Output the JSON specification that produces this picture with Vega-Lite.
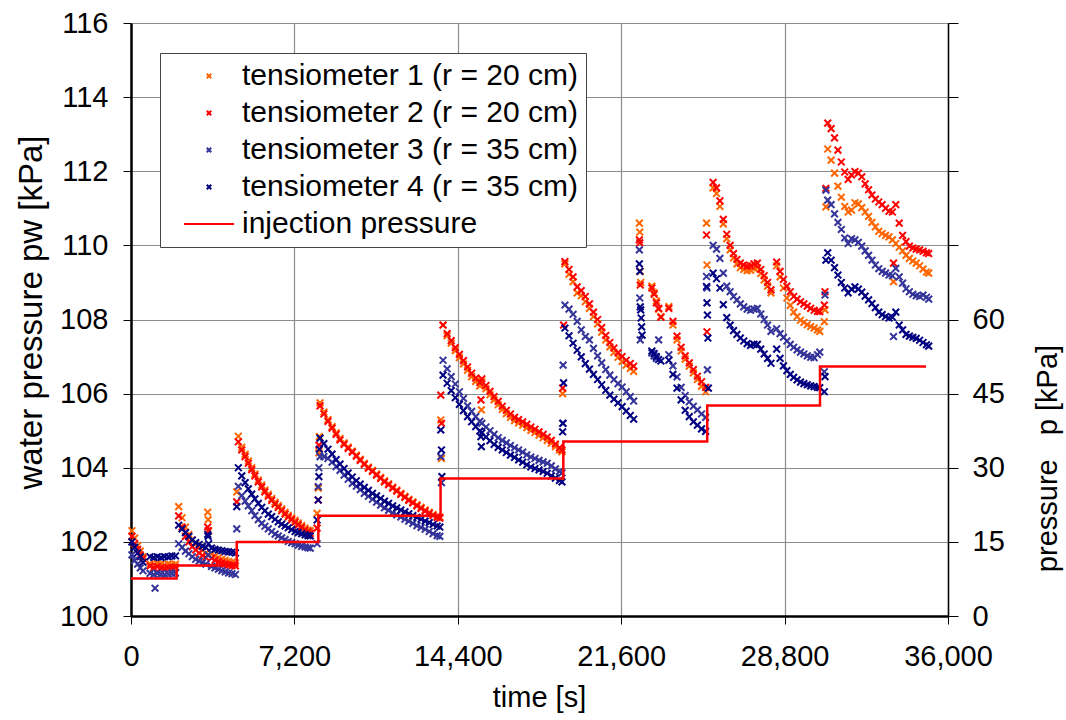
{
"$schema": "https://vega.github.io/schema/vega-lite/v6.json",
"width": 817, "height": 593,
"autosize": {"type": "none"},
"padding": {"left": 131, "top": 23, "right": 118, "bottom": 104},
"background": "white",
"config": {
 "view": {"stroke": null},
 "font": "Liberation Sans",
 "axis": {"labelFont": "Liberation Sans", "titleFont": "Liberation Sans", "labelColor": "#000", "titleColor": "#000", "titleFontWeight": "normal", "labelFontSize": 29, "titleFontSize": 29, "domainColor": "#000", "tickColor": "#000", "gridColor": "#8c8c8c", "gridWidth": 1.2},
 "legend": {"orient": "none", "legendX": 29, "legendY": 30, "labelFont": "Liberation Sans", "labelFontSize": 30, "labelColor": "#000", "fillColor": "white", "strokeColor": "#444", "padding": 8, "rowPadding": 7, "labelOffset": 18, "symbolOffset": 26, "labelLimit": 0, "symbolSize": 20, "symbolStrokeWidth": 2}
},
"datasets": {
"tens": [
{"t":40,"a":102.3,"b":102.15,"c":101.65,"d":102.0},
{"t":160,"a":102.1,"b":101.95,"c":101.5,"d":101.85},
{"t":290,"a":101.9,"b":101.8,"c":101.4,"d":101.7},
{"t":410,"a":101.75,"b":101.65,"c":101.3,"d":101.6},
{"t":530,"a":101.6,"b":101.55,"c":101.22,"d":101.45},
{"t":840,"a":101.4,"b":101.35,"c":101.15,"d":101.6},
{"t":1000,"a":101.38,"b":101.3,"c":101.12,"d":101.58},
{"t":1060,"c":100.75},
{"t":1160,"a":101.42,"b":101.33,"c":101.15,"d":101.6},
{"t":1320,"a":101.4,"b":101.3,"c":101.13,"d":101.58},
{"t":1480,"a":101.38,"b":101.28,"c":101.12,"d":101.6},
{"t":1640,"a":101.4,"b":101.3,"c":101.14,"d":101.6},
{"t":1800,"a":101.38,"b":101.3,"c":101.15,"d":101.62},
{"t":1960,"a":101.4,"b":101.32,"c":101.16,"d":101.62},
{"t":2100,"a":102.95,"b":102.7,"c":101.95,"d":102.45},
{"t":2250,"a":102.65,"b":102.4,"c":101.85,"d":102.35},
{"t":2400,"a":102.4,"b":102.15,"c":101.75,"d":102.25},
{"t":2550,"a":102.2,"b":102.0,"c":101.68,"d":102.15},
{"t":2700,"a":102.05,"b":101.87,"c":101.6,"d":102.05},
{"t":2850,"a":101.95,"b":101.78,"c":101.53,"d":101.98},
{"t":3000,"a":101.85,"b":101.7,"c":101.48,"d":101.93},
{"t":3150,"a":101.77,"b":101.63,"c":101.44,"d":101.88},
{"t":3300,"a":101.7,"b":101.58,"c":101.4,"d":101.85},
{"t":3380,"a":102.8,"b":102.4,"d":102.2},
{"t":3400,"a":102.6,"b":102.3,"c":101.65,"d":102.15},
{"t":3420,"a":102.3,"d":101.95},
{"t":3550,"a":101.68,"b":101.56,"c":101.34,"d":101.83},
{"t":3700,"a":101.62,"b":101.5,"c":101.3,"d":101.8},
{"t":3850,"a":101.57,"b":101.46,"c":101.26,"d":101.78},
{"t":4000,"a":101.53,"b":101.43,"c":101.22,"d":101.76},
{"t":4150,"a":101.5,"b":101.4,"c":101.19,"d":101.74},
{"t":4300,"a":101.47,"b":101.38,"c":101.16,"d":101.73},
{"t":4450,"a":101.45,"b":101.36,"c":101.14,"d":101.72},
{"t":4600,"a":101.43,"b":101.35,"c":101.12,"d":101.7},
{"t":4660,"a":103.35,"b":103.08,"c":102.35,"d":102.95},
{"t":4730,"a":104.85,"b":104.7,"c":103.5,"d":104.0},
{"t":4880,"a":104.55,"b":104.48,"c":103.25,"d":103.78},
{"t":5030,"a":104.36,"b":104.3,"c":103.1,"d":103.6},
{"t":5170,"a":104.18,"b":104.12,"c":102.97,"d":103.43},
{"t":5320,"a":104.0,"b":103.95,"c":102.84,"d":103.29},
{"t":5460,"a":103.83,"b":103.78,"c":102.71,"d":103.16},
{"t":5610,"a":103.67,"b":103.62,"c":102.6,"d":103.04},
{"t":5760,"a":103.53,"b":103.48,"c":102.5,"d":102.93},
{"t":5900,"a":103.4,"b":103.35,"c":102.42,"d":102.84},
{"t":6050,"a":103.28,"b":103.23,"c":102.35,"d":102.75},
{"t":6200,"a":103.17,"b":103.12,"c":102.28,"d":102.68},
{"t":6350,"a":103.07,"b":103.02,"c":102.21,"d":102.61},
{"t":6490,"a":102.98,"b":102.93,"c":102.16,"d":102.54},
{"t":6640,"a":102.89,"b":102.84,"c":102.11,"d":102.48},
{"t":6790,"a":102.8,"b":102.75,"c":102.06,"d":102.43},
{"t":6930,"a":102.72,"b":102.67,"c":102.01,"d":102.38},
{"t":7080,"a":102.65,"b":102.6,"c":101.98,"d":102.33},
{"t":7230,"a":102.58,"b":102.53,"c":101.95,"d":102.28},
{"t":7370,"a":102.51,"b":102.46,"c":101.91,"d":102.25},
{"t":7520,"a":102.44,"b":102.39,"c":101.88,"d":102.22},
{"t":7670,"a":102.37,"b":102.32,"c":101.86,"d":102.19},
{"t":7800,"a":102.32,"b":102.27,"c":101.84,"d":102.17},
{"t":7900,"a":102.3,"b":102.23,"c":101.83,"d":102.16},
{"t":8200,"a":102.77,"b":102.37,"c":101.95,"d":102.59},
{"t":8250,"a":103.45,"b":103.13,"c":103.49,"d":103.13},
{"t":8280,"a":104.4,"b":104.61,"c":104.0,"d":103.76},
{"t":8300,"a":104.84,"d":104.5},
{"t":8330,"a":105.75,"b":105.67,"c":104.3,"d":104.8},
{"t":8500,"a":105.5,"b":105.45,"c":104.3,"d":104.65},
{"t":8680,"a":105.3,"b":105.25,"c":104.25,"d":104.5},
{"t":8860,"a":105.11,"b":105.07,"c":104.15,"d":104.37},
{"t":9040,"a":104.94,"b":104.9,"c":104.03,"d":104.22},
{"t":9210,"a":104.79,"b":104.75,"c":103.93,"d":104.1},
{"t":9390,"a":104.67,"b":104.63,"c":103.8,"d":103.98},
{"t":9570,"a":104.56,"b":104.52,"c":103.69,"d":103.86},
{"t":9750,"a":104.45,"b":104.42,"c":103.58,"d":103.75},
{"t":9930,"a":104.34,"b":104.31,"c":103.5,"d":103.65},
{"t":10100,"a":104.23,"b":104.2,"c":103.41,"d":103.56},
{"t":10280,"a":104.12,"b":104.09,"c":103.31,"d":103.47},
{"t":10460,"a":104.02,"b":103.99,"c":103.23,"d":103.39},
{"t":10640,"a":103.93,"b":103.9,"c":103.15,"d":103.31},
{"t":10820,"a":103.83,"b":103.8,"c":103.07,"d":103.24},
{"t":11000,"a":103.74,"b":103.71,"c":102.99,"d":103.17},
{"t":11170,"a":103.65,"b":103.62,"c":102.92,"d":103.1},
{"t":11350,"a":103.57,"b":103.54,"c":102.85,"d":103.04},
{"t":11530,"a":103.48,"b":103.45,"c":102.78,"d":102.97},
{"t":11710,"a":103.4,"b":103.37,"c":102.73,"d":102.92},
{"t":11890,"a":103.31,"b":103.28,"c":102.67,"d":102.86},
{"t":12070,"a":103.23,"b":103.2,"c":102.61,"d":102.81},
{"t":12240,"a":103.15,"b":103.12,"c":102.56,"d":102.76},
{"t":12420,"a":103.08,"b":103.05,"c":102.5,"d":102.71},
{"t":12600,"a":103.0,"b":102.97,"c":102.44,"d":102.66},
{"t":12780,"a":102.93,"b":102.9,"c":102.39,"d":102.61},
{"t":12960,"a":102.86,"b":102.83,"c":102.34,"d":102.56},
{"t":13140,"a":102.8,"b":102.77,"c":102.28,"d":102.52},
{"t":13310,"a":102.74,"b":102.71,"c":102.22,"d":102.47},
{"t":13490,"a":102.69,"b":102.66,"c":102.17,"d":102.43},
{"t":13610,"a":102.67,"b":102.64,"c":102.15,"d":102.4},
{"t":13650,"a":105.29,"b":105.96,"c":104.3,"d":105.02},
{"t":13680,"a":104.25,"b":105.2,"c":103.6,"d":104.48},
{"t":13700,"d":103.76},
{"t":13750,"a":107.85,"b":107.85,"c":106.9,"d":106.5},
{"t":13930,"a":107.56,"b":107.62,"c":106.67,"d":106.28},
{"t":14110,"a":107.36,"b":107.43,"c":106.46,"d":106.08},
{"t":14290,"a":107.16,"b":107.24,"c":106.26,"d":105.89},
{"t":14470,"a":106.97,"b":107.06,"c":106.05,"d":105.71},
{"t":14650,"a":106.8,"b":106.89,"c":105.87,"d":105.54},
{"t":14830,"a":106.63,"b":106.72,"c":105.67,"d":105.38},
{"t":15010,"a":106.46,"b":106.55,"c":105.52,"d":105.24},
{"t":15190,"a":106.33,"b":106.42,"c":105.38,"d":105.11},
{"t":15370,"a":106.21,"b":106.3,"c":105.25,"d":104.99},
{"t":15420,"b":105.83,"d":104.84},
{"t":15440,"a":105.56,"d":104.57},
{"t":15460,"a":106.32,"b":106.4,"c":105.2,"d":104.94},
{"t":15640,"a":106.13,"b":106.22,"c":105.1,"d":104.83},
{"t":15820,"a":105.97,"b":106.06,"c":105.0,"d":104.73},
{"t":16000,"a":105.83,"b":105.92,"c":104.9,"d":104.63},
{"t":16180,"a":105.7,"b":105.79,"c":104.81,"d":104.55},
{"t":16360,"a":105.57,"b":105.66,"c":104.74,"d":104.48},
{"t":16540,"a":105.46,"b":105.55,"c":104.67,"d":104.41},
{"t":16720,"a":105.36,"b":105.45,"c":104.6,"d":104.34},
{"t":16900,"a":105.27,"b":105.36,"c":104.54,"d":104.28},
{"t":17080,"a":105.21,"b":105.3,"c":104.48,"d":104.21},
{"t":17260,"a":105.15,"b":105.24,"c":104.42,"d":104.15},
{"t":17440,"a":105.08,"b":105.17,"c":104.35,"d":104.08},
{"t":17620,"a":105.01,"b":105.1,"c":104.29,"d":104.02},
{"t":17800,"a":104.95,"b":105.04,"c":104.25,"d":103.98},
{"t":17980,"a":104.88,"b":104.97,"c":104.2,"d":103.94},
{"t":18160,"a":104.81,"b":104.9,"c":104.16,"d":103.9},
{"t":18340,"a":104.74,"b":104.83,"c":104.12,"d":103.85},
{"t":18520,"a":104.66,"b":104.74,"c":104.05,"d":103.78},
{"t":18700,"a":104.57,"b":104.64,"c":103.97,"d":103.72},
{"t":18880,"a":104.48,"b":104.54,"c":103.9,"d":103.66},
{"t":18990,"a":104.43,"b":104.48,"c":103.86,"d":103.62},
{"t":19020,"a":106.0,"b":106.15,"c":105.2,"d":104.97},
{"t":19040,"c":106.77,"d":105.2},
{"t":19060,"b":107.85,"d":106.29},
{"t":19120,"a":109.5,"b":109.56,"c":108.39,"d":107.77},
{"t":19300,"a":109.22,"b":109.35,"c":108.28,"d":107.56},
{"t":19480,"a":109.02,"b":109.15,"c":108.14,"d":107.36},
{"t":19660,"a":108.72,"b":108.88,"c":107.95,"d":107.17},
{"t":19840,"a":108.64,"b":108.78,"c":107.72,"d":106.99},
{"t":20020,"a":108.48,"b":108.62,"c":107.54,"d":106.81},
{"t":20200,"a":108.3,"b":108.42,"c":107.45,"d":106.66},
{"t":20380,"a":108.08,"b":108.2,"c":107.22,"d":106.52},
{"t":20560,"a":107.88,"b":108.0,"c":107.02,"d":106.38},
{"t":20740,"a":107.66,"b":107.78,"c":106.83,"d":106.24},
{"t":20920,"a":107.45,"b":107.57,"c":106.65,"d":106.09},
{"t":21100,"a":107.26,"b":107.38,"c":106.5,"d":105.96},
{"t":21280,"a":107.11,"b":107.23,"c":106.38,"d":105.85},
{"t":21460,"a":106.98,"b":107.1,"c":106.27,"d":105.75},
{"t":21640,"a":106.87,"b":107.0,"c":106.18,"d":105.65},
{"t":21820,"a":106.77,"b":106.9,"c":106.05,"d":105.53},
{"t":22000,"a":106.68,"b":106.81,"c":105.92,"d":105.41},
{"t":22150,"a":106.6,"b":106.74,"c":105.8,"d":105.31},
{"t":22400,"a":110.6,"b":110.15,"c":109.88,"d":109.5},
{"t":22420,"a":110.36,"b":110.07,"c":108.58,"d":109.3},
{"t":22440,"a":109.3,"b":108.93,"c":107.45,"d":108.34},
{"t":22460,"a":109.0,"d":108.26},
{"t":22480,"d":108.04},
{"t":22500,"d":107.8},
{"t":22520,"d":107.58},
{"t":22950,"a":108.9,"b":108.85,"c":107.1,"d":107.15},
{"t":23050,"a":108.72,"b":108.68,"c":107.02,"d":107.08},
{"t":23150,"a":108.5,"b":108.45,"c":106.95,"d":107.0},
{"t":23250,"a":108.28,"b":108.3,"c":107.45,"d":106.92},
{"t":23350,"a":108.08,"b":108.06,"d":106.88},
{"t":23700,"a":108.35,"b":108.3,"c":107.05,"d":106.9},
{"t":23880,"a":107.85,"b":107.95,"c":106.75,"d":106.52},
{"t":24060,"a":107.45,"b":107.55,"c":106.45,"d":106.15},
{"t":24240,"a":107.15,"b":107.25,"c":106.17,"d":105.83},
{"t":24420,"a":106.93,"b":107.02,"c":105.95,"d":105.55},
{"t":24600,"a":106.74,"b":106.83,"c":105.78,"d":105.38},
{"t":24780,"a":106.56,"b":106.65,"c":105.66,"d":105.24},
{"t":24960,"a":106.38,"b":106.47,"c":105.56,"d":105.15},
{"t":25140,"a":106.2,"b":106.32,"c":105.45,"d":105.05},
{"t":25320,"a":106.05,"b":106.17,"c":105.36,"d":104.98},
{"t":25360,"a":110.6,"b":110.28,"c":109.16,"d":108.89},
{"t":25380,"a":109.47,"b":107.67,"c":108.85,"d":108.45},
{"t":25400,"c":106.64,"d":108.12},
{"t":25420,"d":107.5},
{"t":25440,"d":106.15},
{"t":25650,"a":111.55,"b":111.7,"c":110.0,"d":109.25},
{"t":25800,"a":111.4,"b":111.55,"c":109.9,"d":109.1},
{"t":25950,"a":111.05,"b":111.2,"c":109.65,"d":108.85},
{"t":26100,"a":110.58,"b":110.7,"c":109.25,"d":108.4},
{"t":26250,"a":110.18,"b":110.3,"c":108.9,"d":108.05},
{"t":26400,"a":109.88,"b":110.0,"c":108.75,"d":107.85},
{"t":26550,"a":109.66,"b":109.78,"c":108.62,"d":107.7},
{"t":26700,"a":109.5,"b":109.62,"c":108.53,"d":107.6},
{"t":26850,"a":109.4,"b":109.52,"c":108.42,"d":107.5},
{"t":27000,"a":109.35,"b":109.47,"c":108.34,"d":107.42},
{"t":27150,"a":109.32,"b":109.44,"c":108.28,"d":107.35},
{"t":27300,"a":109.33,"b":109.45,"c":108.25,"d":107.3},
{"t":27450,"a":109.38,"b":109.5,"c":108.28,"d":107.33},
{"t":27600,"a":109.4,"b":109.52,"c":108.3,"d":107.33},
{"t":27750,"a":109.24,"b":109.35,"c":108.15,"d":107.2},
{"t":27900,"a":109.07,"b":109.18,"c":108.0,"d":107.07},
{"t":28050,"a":108.9,"b":109.0,"c":107.85,"d":106.95},
{"t":28200,"a":108.72,"b":108.8,"c":107.68,"d":106.82},
{"t":28450,"a":109.45,"b":109.55,"c":107.75,"d":107.2},
{"t":28600,"a":109.15,"b":109.3,"c":107.62,"d":106.95},
{"t":28750,"a":108.85,"b":109.08,"c":107.52,"d":106.75},
{"t":28900,"a":108.58,"b":108.9,"c":107.42,"d":106.62},
{"t":29050,"a":108.38,"b":108.75,"c":107.33,"d":106.52},
{"t":29200,"a":108.2,"b":108.62,"c":107.25,"d":106.44},
{"t":29350,"a":108.08,"b":108.55,"c":107.18,"d":106.37},
{"t":29500,"a":107.98,"b":108.48,"c":107.12,"d":106.31},
{"t":29650,"a":107.92,"b":108.42,"c":107.07,"d":106.27},
{"t":29800,"a":107.86,"b":108.36,"c":107.02,"d":106.24},
{"t":29950,"a":107.81,"b":108.3,"c":106.98,"d":106.21},
{"t":30100,"a":107.77,"b":108.25,"c":106.97,"d":106.19},
{"t":30250,"a":107.72,"b":108.22,"c":107.05,"d":106.17},
{"t":30350,"a":107.68,"b":108.21,"c":107.12,"d":106.16},
{"t":30550,"a":107.94,"b":108.39,"c":106.59,"d":106.05},
{"t":30580,"a":108.26,"b":108.75,"c":108.66,"d":106.46},
{"t":30620,"a":111.04,"b":111.54,"c":111.49,"d":109.6},
{"t":30700,"a":112.6,"b":113.3,"c":111.22,"d":109.8},
{"t":30850,"a":112.3,"b":113.15,"c":111.1,"d":109.6},
{"t":31000,"a":111.95,"b":112.9,"c":110.85,"d":109.4},
{"t":31150,"a":111.6,"b":112.57,"c":110.62,"d":109.2},
{"t":31300,"a":111.3,"b":112.25,"c":110.43,"d":109.0},
{"t":31450,"a":111.05,"b":111.98,"c":110.2,"d":108.85},
{"t":31600,"a":110.9,"b":111.78,"c":110.05,"d":108.72},
{"t":31750,"a":110.95,"b":111.9,"c":110.18,"d":108.82},
{"t":31900,"a":111.15,"b":111.99,"c":110.15,"d":108.88},
{"t":32050,"a":111.12,"b":111.95,"c":110.08,"d":108.82},
{"t":32200,"a":111.02,"b":111.85,"c":109.98,"d":108.74},
{"t":32350,"a":110.9,"b":111.66,"c":109.85,"d":108.63},
{"t":32500,"a":110.78,"b":111.5,"c":109.73,"d":108.53},
{"t":32650,"a":110.62,"b":111.36,"c":109.6,"d":108.43},
{"t":32800,"a":110.5,"b":111.25,"c":109.47,"d":108.32},
{"t":32950,"a":110.38,"b":111.17,"c":109.37,"d":108.2},
{"t":33100,"a":110.32,"b":111.1,"c":109.3,"d":108.13},
{"t":33250,"a":110.27,"b":111.0,"c":109.25,"d":108.08},
{"t":33400,"a":110.23,"b":110.92,"c":109.2,"d":108.04},
{"t":33550,"a":110.15,"b":110.9,"c":109.18,"d":108.06},
{"t":33600,"a":109.02,"b":109.52,"c":107.54},
{"t":33700,"a":110.05,"b":111.1,"c":109.38,"d":108.2},
{"t":33850,"a":109.95,"b":110.6,"c":109.15,"d":107.85},
{"t":34000,"a":109.85,"b":110.27,"c":108.98,"d":107.72},
{"t":34150,"a":109.73,"b":110.1,"c":108.83,"d":107.6},
{"t":34300,"a":109.65,"b":109.98,"c":108.75,"d":107.55},
{"t":34450,"a":109.58,"b":109.93,"c":108.68,"d":107.52},
{"t":34600,"a":109.52,"b":109.9,"c":108.64,"d":107.49},
{"t":34750,"a":109.45,"b":109.88,"c":108.62,"d":107.44},
{"t":34900,"a":109.36,"b":109.84,"c":108.66,"d":107.38},
{"t":35050,"a":109.28,"b":109.8,"c":108.6,"d":107.32},
{"t":35150,"a":109.25,"b":109.78,"c":108.55,"d":107.28}
],
"inj": [
{"t":0,"p":7.6,"key":"e"},
{"t":2010,"p":10.2,"key":"e"},
{"t":4660,"p":15.0,"key":"e"},
{"t":8255,"p":20.3,"key":"e"},
{"t":13640,"p":27.8,"key":"e"},
{"t":19050,"p":35.3,"key":"e"},
{"t":25390,"p":42.6,"key":"e"},
{"t":30360,"p":50.5,"key":"e"},
{"t":35030,"p":50.5,"key":"e"}
]
},
"layer": [
{
 "data": {"name": "tens"},
 "transform": [{"fold": ["a","b","c","d"], "as": ["key","p"]}],
 "mark": {"type": "point", "filled": false, "strokeWidth": 2, "size": 45, "opacity": 1},
 "encoding": {
  "x": {"field": "t", "type": "quantitative", "scale": {"domain": [0,36000], "nice": false, "zero": false},
   "axis": {"values": [0,7200,14400,21600,28800,36000], "format": ",d", "title": "time [s]", "grid": true, "tickSize": 8, "labelPadding": 18, "domainWidth": 2.5, "titleX": 408, "titleY": 81, "titleBaseline": "middle", "labelFlush": false}},
  "y": {"field": "p", "type": "quantitative", "scale": {"domain": [100,116], "nice": false, "zero": false},
   "axis": {"values": [100,102,104,106,108,110,112,114,116], "title": "water pressure pw [kPa]", "titleFontSize": 33, "grid": true, "tickSize": 8, "labelPadding": 15, "domainWidth": 2.5, "titleX": -100, "titleY": 289, "titleAngle": 270, "titleBaseline": "middle", "titleAlign": "center"}},
  "color": {"field": "key", "type": "nominal",
   "scale": {"domain": ["a","b","c","d","e"], "range": ["#ff6600","#ff0000","#333399","#000080","#ff0000"]},
   "legend": {"title": null, "labelExpr": "datum.value == 'a' ? 'tensiometer 1 (r = 20 cm)' : datum.value == 'b' ? 'tensiometer 2 (r = 20 cm)' : datum.value == 'c' ? 'tensiometer 3 (r = 35 cm)' : datum.value == 'd' ? 'tensiometer 4 (r = 35 cm)' : 'injection pressure'"}},
  "shape": {"field": "key", "type": "nominal",
   "scale": {"domain": ["a","b","c","d","e"], "range": ["M-1,-1L1,1M-1,1L1,-1","M-1,-1L1,1M-1,1L1,-1","M-1,-1L1,1M-1,1L1,-1","M-1,-1L1,1M-1,1L1,-1","M-11.2,0L11.2,0"]},
   "legend": {"title": null, "labelExpr": "datum.value == 'a' ? 'tensiometer 1 (r = 20 cm)' : datum.value == 'b' ? 'tensiometer 2 (r = 20 cm)' : datum.value == 'c' ? 'tensiometer 3 (r = 35 cm)' : datum.value == 'd' ? 'tensiometer 4 (r = 35 cm)' : 'injection pressure'"}},
  "order": {"field": "key"}
 }
},
{
 "data": {"name": "inj"},
 "mark": {"type": "line", "interpolate": "step-after", "strokeWidth": 2.5},
 "encoding": {
  "x": {"field": "t", "type": "quantitative"},
  "y": {"field": "p", "type": "quantitative", "scale": {"domain": [0,120], "nice": false, "zero": false},
   "axis": {"orient": "right", "values": [0,15,30,45,60,75,90,105,120], "labelExpr": "datum.value <= 60 ? datum.label : ''", "grid": false, "title": "pressure\u00a0\u00a0\u00a0p [kPa]", "tickSize": 10, "labelPadding": 14, "domainWidth": 1.5, "titleAngle": 270, "titleX": 99, "titleY": 435, "titleBaseline": "middle", "titleAlign": "center"}},
  "color": {"field": "key", "type": "nominal"}
 }
}
],
"resolve": {"scale": {"y": "independent"}}
}
